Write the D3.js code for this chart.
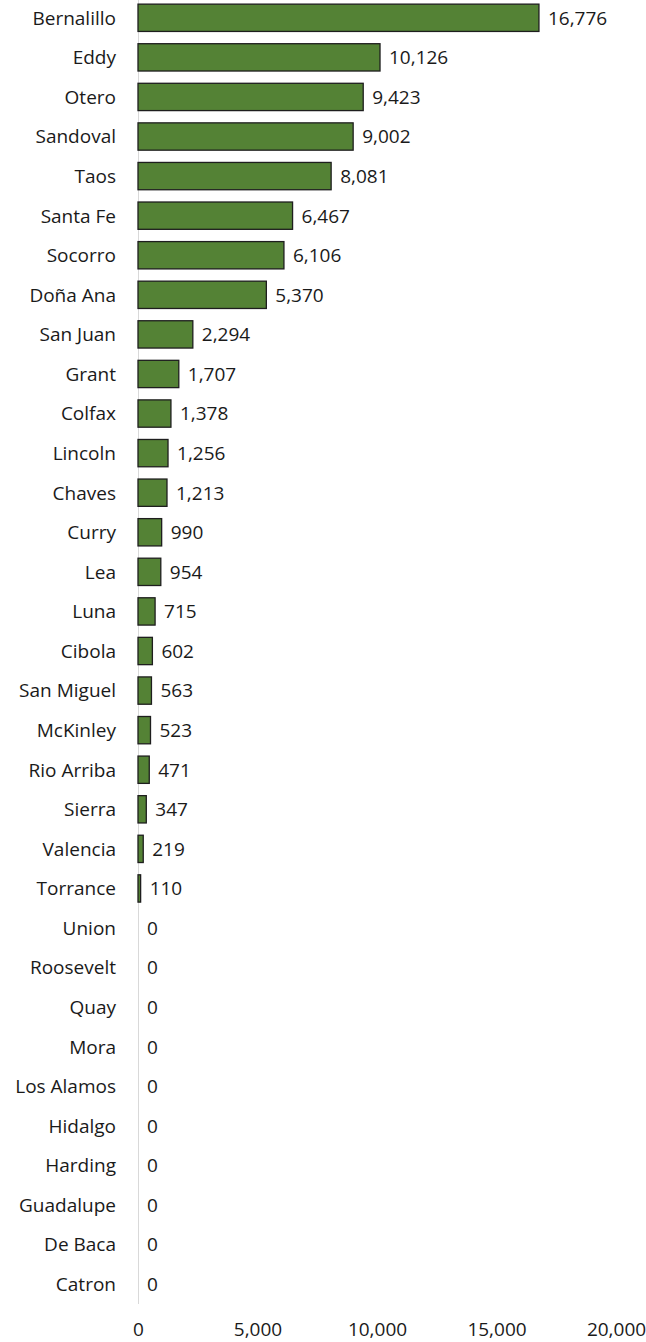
<!DOCTYPE html>
<html>
<head>
    <meta charset="utf-8">
    <style>
        body { margin: 0; background: #fff; }
        text { font-family: 'Open Sans', sans-serif; }
    </style>
</head>
<body>
<script src="https://d3js.org/d3.v7.min.js"></script>
<script>
    var counties = ['Bernalillo', 'Eddy', 'Otero', 'Sandoval', 'Taos', 'Santa Fe', 'Socorro', 'Doña Ana',
        'San Juan', 'Grant', 'Colfax', 'Lincoln', 'Chaves', 'Curry', 'Lea', 'Luna', 'Cibola', 'San Miguel',
        'McKinley', 'Rio Arriba', 'Sierra', 'Valencia', 'Torrance', 'Union', 'Roosevelt', 'Quay', 'Mora',
        'Los Alamos', 'Hidalgo', 'Harding', 'Guadalupe', 'De Baca', 'Catron'];
    var values = [16776, 10126, 9423, 9002, 8081, 6467, 6106, 5370, 2294, 1707, 1378, 1256, 1213, 990, 954,
        715, 602, 563, 523, 471, 347, 219, 110, 0, 0, 0, 0, 0, 0, 0, 0, 0, 0];
    var ticks = [0, 5000, 10000, 15000, 20000];

    var W = 646, H = 1342;
    var m = { left: 138, right: 616, top: -2, bottom: 1304 };
    var fs = 19;

    var svg = d3.select('body').append('svg')
        .attr('width', W)
        .attr('height', H);

    var x = d3.scaleLinear().domain([0, 20000]).range([m.left, m.right]);
    var y = d3.scaleBand().domain(counties).range([m.top, m.bottom]).paddingInner(0.31).paddingOuter(0.155);

    var fmt = d3.format(',');

    // vertical baseline
    svg.append('line')
        .attr('x1', x(0) + 0.5).attr('x2', x(0) + 0.5)
        .attr('y1', 0).attr('y2', m.bottom)
        .attr('stroke', '#d9d9d9')
        .attr('stroke-width', 1);

    var rows = svg.selectAll('g.row').data(counties).enter()
        .append('g').attr('class', 'row');

    rows.filter(function (d, i) { return values[i] > 0; })
        .append('rect')
        .attr('x', x(0))
        .attr('y', function (d) { return y(d); })
        .attr('width', function (d) { return x(values[counties.indexOf(d)]) - x(0); })
        .attr('height', y.bandwidth())
        .attr('fill', '#548235')
        .attr('stroke', '#1e1e1e')
        .attr('stroke-width', 1.3);

    rows.append('text')
        .attr('x', 116)
        .attr('y', function (d) { return y(d) + y.bandwidth() / 2; })
        .attr('dy', '0.36em')
        .attr('text-anchor', 'end')
        .attr('font-size', fs)
        .attr('fill', '#1a1a1a')
        .text(function (d) { return d; });

    rows.append('text')
        .attr('x', function (d, i) { return x(values[i]) + 9; })
        .attr('y', function (d) { return y(d) + y.bandwidth() / 2; })
        .attr('dy', '0.36em')
        .attr('font-size', fs)
        .attr('fill', '#1a1a1a')
        .text(function (d, i) { return fmt(values[i]); });

    var axis = d3.axisBottom(x).tickValues(ticks).tickFormat(fmt).tickSize(0).tickPadding(0);
    var ag = svg.append('g')
        .attr('transform', 'translate(0,1322)')
        .call(axis);
    ag.select('.domain').remove();
    ag.selectAll('text')
        .attr('font-size', fs)
        .attr('fill', '#1a1a1a')
        .attr('font-family', "'Open Sans', sans-serif");
</script>
</body>
</html>
